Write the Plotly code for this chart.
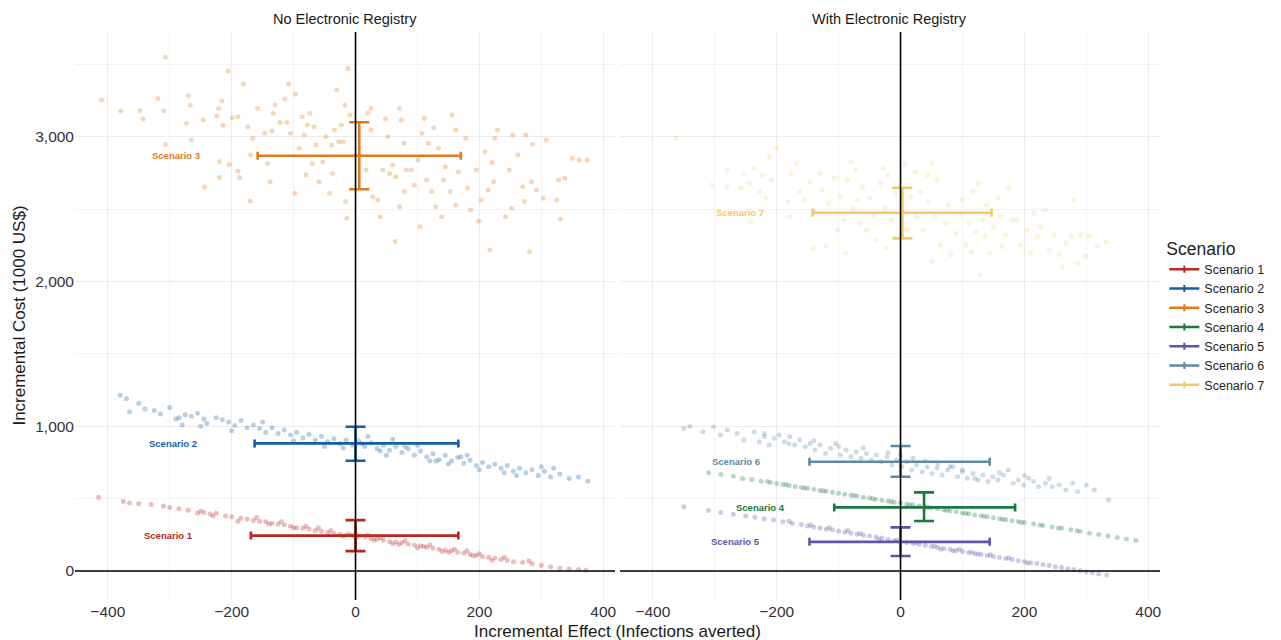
import plotly.graph_objects as go

# ---------------- data ----------------
scenarios = ["Scenario 1", "Scenario 2", "Scenario 3", "Scenario 4",
             "Scenario 5", "Scenario 6", "Scenario 7"]
panels = ["No Electronic Registry", "With Electronic Registry"]
scenario_panel = [0, 0, 0, 1, 1, 1, 1]
colors = ["#B8281F", "#145FA8", "#E07A1C", "#187A3C", "#5F54A8", "#5E8AA8", "#F6C965"]

# summary (mean and 95% intervals) read from the crosshairs
mean_x = [0, 0, 6, 38, 0, 0, 3]
mean_y = [245, 882, 2870, 440, 202, 755, 2476]
x_lo = [-169, -163, -158, -107, -147, -147, -142]
x_hi = [166, 166, 170, 185, 144, 144, 147]
y_lo = [138, 762, 2638, 346, 104, 652, 2299]
y_hi = [352, 997, 3101, 544, 302, 864, 2649]

# simulated incremental effects / costs (read from the scatter clouds)
s1_x = [-415, -375, -365, -350, -330, -310, -300, -285, -270, -255, -245, -235, -225, -210, -200,
        -185, -175, -165, -155, -145, -135, -125, -115, -105, -95, -85, -75, -65, -55, -45, -35,
        -25, -15, -5, 5, 15, 25, 35, 45, 55, 65, 75, 85, 95, 105, 115, 125, 135, 145, 155, 165,
        175, 185, 195, 205, 215, 225, 235, 245, 255, 270, 285, 300, 315, 330, 345, 360, 372,
        -250, -230, -190, -160, -120, -80, -40, 0, 0, 40, 80, 120, 160, 200, 240, 280, -60, -20,
        20, 60, 100, 140, 180, 220, -140, -100, -10, 30, 70, 110, 150, 190]
s1_y = [510, 480, 470, 465, 460, 450, 440, 430, 420, 400, 405, 395, 400, 380, 375,
        365, 360, 350, 345, 340, 330, 325, 320, 310, 300, 295, 290, 280, 275, 265, 260,
        255, 250, 245, 240, 235, 225, 220, 215, 205, 200, 195, 185, 180, 175, 165, 160, 150, 145, 140, 130,
        125, 115, 110, 100, 95, 90, 80, 75, 65, 60, 50, 40, 30, 20, 15, 10, 5,
        415, 380, 345, 370, 340, 310, 280, 260, 230, 230, 210, 180, 150, 120, 95, 70, 300, 240,
        250, 190, 160, 135, 140, 75, 325, 300, 255, 215, 185, 170, 130, 105]

s2_x = [-380, -370, -365, -350, -340, -325, -315, -300, -290, -285, -275, -265, -255, -245, -240,
        -225, -215, -205, -195, -185, -175, -165, -155, -145, -135, -125, -115, -105, -95, -85,
        -75, -65, -55, -45, -35, -25, -15, -5, 5, 15, 25, 35, 45, 55, 65, 75, 85, 95, 105, 115,
        125, 135, 145, 155, 165, 175, 185, 195, 205, 215, 225, 235, 245, 255, 265, 275, 285, 295,
        305, 315, 330, 345, 360, 375, 260, 300, 320, 200, 150, 100, 50, -50, -100, -150, -200,
        -250, -280, 20, 60, 120, 180, 240, -20, 10, 40, 80, 130, 170]
s2_y = [1215, 1190, 1100, 1160, 1120, 1110, 1085, 1130, 1050, 1060, 1080, 1070, 1090, 1050, 1020,
        1060, 1045, 1030, 1005, 1040, 990, 1010, 985, 960, 990, 950, 975, 940, 960, 920,
        945, 905, 930, 895, 915, 880, 905, 870, 900, 860, 885, 845, 870, 835, 860, 820, 845, 800, 830, 790,
        810, 770, 800, 760, 785, 745, 765, 730, 750, 720, 740, 710, 730, 690, 710, 680, 700, 660,
        690, 650, 670, 640, 650, 620, 660, 720, 710, 700, 740, 870, 800, 860, 900, 1030, 970,
        1000, 1010, 930, 910, 760, 800, 680, 850, 880, 830, 860, 760, 790]

s3_x = [-410, -307, -379, -348, -343, -319, -310, -307, -270, -267, -273, -265, -246, -244, -224,
        -221, -216, -220, -220, -214, -206, -204, -199, -190, -190, -187, -181, -174, -170, -169,
        -166, -158, -147, -142, -138, -135, -133, -130, -122, -114, -111, -108, -105, -98, -97,
        -91, -86, -83, -80, -78, -74, -70, -67, -64, -59, -53, -48, -42, -39, -37, -34, -30,
        -27, -23, -20, -17, -16, -14, -12, -9, 17, 20, 25, 25, 28, 36, 40, 44, 48, 52, 55, 60,
        64, 65, 71, 71, 74, 78, 79, 82, 90, 95, 101, 104, 107, 111, 115, 118, 123, 126, 129,
        134, 139, 142, 145, 153, 156, 162, 162, 166, 178, 181, 186, 195, 199, 203, 209, 214,
        217, 220, 223, 225, 229, 242, 248, 252, 254, 262, 270, 273, 275, 281, 284, 286, 292,
        303, 308, 325, 328, 331, 338, 350, 361, 374]
s3_y = [3255, 3550, 3179, 3181, 3123, 3266, 3181, 2948, 3285, 3220, 3094, 2979, 3117, 2654, 3145,
        3197, 3248, 2829, 2719, 3080, 3456, 2810, 3133, 3140, 2764, 2719, 3366, 3070, 2557, 2875,
        2990, 3197, 3025, 2817, 2691, 3041, 3163, 3220, 3100, 3262, 3100, 3366, 3025, 2610, 3294,
        2922, 3140, 3013, 2737, 3083, 3163, 2817, 3071, 2944, 2691, 2829, 3002, 2610, 2944, 2748, 3048, 3325,
        2967, 3083, 2967, 3220, 2553, 2438, 3473, 3151, 2771, 3163, 3197, 3048, 2587, 2564, 2449, 2771, 3123, 3002, 2748, 2806,
        2277, 2725, 3197, 2518, 3117, 2956, 2622, 2771, 2771, 2668, 2841, 2380, 3025, 3128, 2702, 2956, 2622, 3064, 2518,
        2921, 2449, 2702, 2794, 2622, 3151, 3048, 2530, 2760, 2990, 2645, 2495, 2771, 2418, 2564, 2898, 2633,
        2219, 2823, 2691, 2990, 3048, 2449, 2771, 2507, 3013, 2875, 2656, 2553, 3013, 2207, 2691, 2950, 2633,
        2576, 2979, 2564, 2702, 2432, 2714, 2852, 2840, 2840]

s4_x = [-310, -290, -270, -255, -240, -225, -210, -200, -190, -180, -170, -160, -150, -140, -130,
        -120, -110, -100, -90, -80, -70, -60, -50, -40, -30, -20, -10, 0, 10, 20, 30, 40, 50, 60,
        70, 80, 90, 100, 110, 120, 130, 140, 150, 160, 170, 180, 190, 200, 215, 230, 245, 260,
        275, 290, 305, 320, 335, 350, 365, 380, -75, -45, -15, 15, 45, 75, 105, 135, 165, 195,
        -125, -155, -185, -215, 225, 255, 285]
s4_y = [680, 668, 655, 640, 632, 620, 612, 605, 598, 592, 585, 578, 572, 565, 556,
        552, 544, 538, 530, 524, 518, 510, 504, 497, 490, 484, 476, 470, 462, 456, 450, 443, 436, 430,
        422, 416, 410, 402, 396, 388, 382, 376, 368, 362, 355, 348, 342, 335, 325, 315, 305, 295,
        285, 275, 262, 252, 242, 232, 222, 212, 522, 500, 480, 458, 440, 420, 399, 378, 358, 338,
        555, 574, 598, 618, 318, 298, 278]

s5_x = [-350, -310, -290, -270, -250, -235, -220, -205, -190, -175, -160, -150, -140, -130, -120,
        -110, -100, -90, -80, -70, -60, -50, -40, -30, -20, -10, 0, 10, 20, 30, 40, 50, 60, 70,
        80, 90, 100, 110, 120, 130, 140, 150, 160, 170, 180, 190, 200, 210, 220, 230, 240, 250,
        260, 270, 280, 290, 300, 310, 320, 333, -65, -35, -5, 25, 55, 85, 115, 145, 175, 205,
        -115, -145, -180, -85, 65, 95, 125]
s5_y = [444, 418, 405, 392, 380, 372, 360, 352, 340, 330, 322, 312, 305, 298, 290,
        285, 276, 270, 262, 255, 248, 242, 235, 228, 218, 212, 205, 198, 190, 185, 178, 170, 163, 156,
        150, 142, 136, 128, 122, 115, 108, 100, 94, 86, 80, 72, 66, 58, 52, 45, 38, 30,
        24, 16, 10, 2, -5, -12, -20, -28, 260, 222, 215, 195, 172, 140, 130, 112, 90, 55,
        300, 318, 345, 280, 150, 150, 118]

s6_x = [-350, -340, -319, -302, -291, -280, -264, -253, -236, -228, -220, -212, -204, -196, -187,
        -179, -171, -163, -154, -146, -138, -130, -121, -113, -105, -97, -88, -80, -72, -64, -55,
        -47, -39, -31, -22, -14, -6, 2, 10, 18, 26, 35, 43, 51, 59, 67, 76, 84, 92, 100, 108, 117,
        125, 133, 141, 149, 157, 166, 174, 182, 190, 199, 207, 215, 223, 234, 245, 256, 267, 278,
        286, 300, 313, 336, -20, 0, 20, 40, 60, 80, 100, -60, -100, -140, 120, 160, 200, 240,
        -180, -220]
s6_y = [985, 1000, 963, 997, 940, 974, 951, 905, 963, 894, 928, 871, 917, 940, 894,
        928, 871, 905, 859, 882, 836, 871, 813, 848, 882, 802, 836, 790, 825, 779, 813,
        767, 802, 756, 790, 733, 767, 721, 756, 698, 733, 687, 721, 675, 710, 664, 698, 721, 652, 687, 641, 675,
        629, 664, 618, 652, 629, 664, 698, 606, 629, 595, 641, 618, 583, 606, 583, 595, 560, 606,
        549, 595, 560, 491, 820, 800, 780, 760, 740, 720, 700, 850, 860, 900, 640, 680, 660, 640,
        880, 950]

s7_x = [-362, -305, -280, -280, -258, -253, -244, -236, -228, -223, -217, -212, -209, -200, -242,
        -182, -177, -168, -163, -179, -155, -146, -138, -130, -127, -141, -121, -116, -108, -102,
        -97, -91, -89, -86, -80, -77, -72, -69, -66, -61, -55, -50, -44, -39, -33, -28, -25, -23,
        -20, -15, -9, 7, 10, 15, 24, 26, 32, 37, 43, 45, 51, 51, 56, 59, 65, 73, 78, 81, 89, 97,
        100, 106, 111, 114, 117, 122, 125, 128, 133, 136, 139, 144, 150, 158, 161, 164, 169, 175,
        180, 188, 194, 204, 210, 215, 221, 226, 234, 240, 248, 256, 261, 267, 275, 280, 286, 291,
        299, 305, 318, 332]
s7_y = [2990, 2668, 2771, 2656, 2645, 2748, 2679, 2783, 2622, 2737, 2576, 2863, 2702, 2921, 2414,
        2553, 2748, 2817, 2622, 2449, 2564, 2691, 2484, 2748, 2633, 2230, 2242, 2541, 2714, 2357,
        2587, 2426, 2196, 2702, 2829, 2507, 2771, 2564, 2403, 2656, 2357, 2576, 2461, 2288, 2679, 2783, 2507, 2230,
        2737, 2426, 2610, 2817, 2357, 2587, 2760, 2449, 2622, 2357, 2737, 2553, 2817, 2139, 2449, 2702, 2253, 2403, 2530, 2185, 2334, 2472,
        2564, 2253, 2403, 2207, 2622, 2345, 2679, 2046, 2426, 2311, 2530, 2196, 2380, 2576, 2449, 2242, 2322, 2645,
        2426, 2426, 2253, 2357, 2196, 2472, 2311, 2380, 2495, 2219, 2322, 2185, 2104, 2265, 2311, 2564, 2127, 2322,
        2173, 2311, 2242, 2276]

points_x = [s1_x, s2_x, s3_x, s4_x, s5_x, s6_x, s7_x]
points_y = [s1_y, s2_y, s3_y, s4_y, s5_y, s6_y, s7_y]

x_ticks = [-400, -200, 0, 200, 400]
y_ticks = [0, 1000, 2000, 3000]
y_tick_labels = ["0", "1,000", "2,000", "3,000"]

# ---------------- figure ----------------
FONT = "Liberation Sans, Arial, sans-serif"
fig = go.Figure()

def hex_rgba(h, a):
    h = h.lstrip("#")
    return "rgba(%d,%d,%d,%.2f)" % (int(h[0:2], 16), int(h[2:4], 16), int(h[4:6], 16), a)

point_alpha = [0.3, 0.3, 0.3, 0.3, 0.3, 0.3, 0.25]
label_gap = [90, 76]   # distance (x units) between a label's right edge and its bar

for i, name in enumerate(scenarios):
    xa = "x" if scenario_panel[i] == 0 else "x2"
    fig.add_trace(go.Scatter(
        x=points_x[i], y=points_y[i], mode="markers", xaxis=xa, yaxis="y",
        marker=dict(size=5, color=hex_rgba(colors[i], point_alpha[i]), line=dict(width=0)),
        showlegend=False, hoverinfo="skip"))

for i, name in enumerate(scenarios):
    xa = "x" if scenario_panel[i] == 0 else "x2"
    fig.add_trace(go.Scatter(
        x=[mean_x[i]], y=[mean_y[i]], mode="markers", xaxis=xa, yaxis="y",
        marker=dict(size=1, color="rgba(0,0,0,0)"),
        error_x=dict(type="data", symmetric=False, array=[x_hi[i] - mean_x[i]],
                     arrayminus=[mean_x[i] - x_lo[i]], color=colors[i], thickness=2.6, width=4),
        error_y=dict(type="data", symmetric=False, array=[y_hi[i] - mean_y[i]],
                     arrayminus=[mean_y[i] - y_lo[i]], color=colors[i], thickness=2.6, width=10),
        showlegend=False, hoverinfo="skip"))
    # legend entry
    fig.add_trace(go.Scatter(
        x=[None], y=[None], mode="lines+markers", xaxis=xa, yaxis="y", name=name,
        line=dict(color=colors[i], width=2.5),
        marker=dict(color=colors[i], size=5, symbol="line-ns-open", line=dict(width=2, color=colors[i])),
        showlegend=True))
    # text label
    fig.add_annotation(x=x_lo[i] - label_gap[scenario_panel[i]], y=mean_y[i], xref=xa, yref="y",
                       text="<b>%s</b>" % name,
                       showarrow=False, xanchor="right", yanchor="middle",
                       font=dict(family=FONT, size=9.5, color=colors[i]))

# zero reference lines
for xa, xr in (("x", "x domain"), ("x2", "x2 domain")):
    fig.add_shape(type="line", xref=xa, yref="y domain", x0=0, x1=0, y0=0, y1=1,
                  line=dict(color="black", width=1.6), layer="above")
    fig.add_shape(type="line", xref=xr, yref="y", x0=0, x1=1, y0=0, y1=0,
                  line=dict(color="black", width=1.6), layer="above")

axis_common = dict(range=[-453, 419], tickvals=x_ticks, showgrid=True, gridcolor="#EBEBEB",
                   gridwidth=1, zeroline=False, showline=False, ticks="",
                   minor=dict(dtick=100, tick0=-500, showgrid=True, gridcolor="#F3F3F3", gridwidth=1),
                   tickfont=dict(family=FONT, size=15.5, color="#333333"))
fig.update_layout(
    width=1281, height=640,
    margin=dict(l=75, r=111, t=32, b=40),
    paper_bgcolor="white", plot_bgcolor="white",
    font=dict(family=FONT, color="#222222"),
    xaxis=dict(domain=[0, 0.4977], anchor="y", **axis_common),
    xaxis2=dict(domain=[0.5023, 1], anchor="y", **axis_common),
    yaxis=dict(range=[-200, 3725], tickvals=y_ticks, ticktext=y_tick_labels, showgrid=True,
               gridcolor="#EBEBEB", zeroline=False, showline=False, ticks="",
               minor=dict(dtick=500, tick0=500, showgrid=True, gridcolor="#F3F3F3", gridwidth=1),
               tickfont=dict(family=FONT, size=15.5, color="#333333")),
    legend=dict(x=1.004, y=0.648, xanchor="left", yanchor="top",
                title=dict(text="Scenario", font=dict(family=FONT, size=17.5, color="#222222")),
                font=dict(family=FONT, size=12.5, color="#222222"),
                itemwidth=30, tracegroupgap=0, bgcolor="rgba(0,0,0,0)"),
)

# facet titles and axis titles
fig.add_annotation(x=0.5, y=1.005, xref="x domain", yref="paper", text=panels[0], showarrow=False,
                   xanchor="center", yanchor="bottom", font=dict(family=FONT, size=14.5, color="#1A1A1A"))
fig.add_annotation(x=0.5, y=1.005, xref="x2 domain", yref="paper", text=panels[1], showarrow=False,
                   xanchor="center", yanchor="bottom", font=dict(family=FONT, size=14.5, color="#1A1A1A"))
fig.add_annotation(x=0.5, y=-0.0546, xref="paper", yref="paper",
                   text="Incremental Effect (Infections averted)", showarrow=False,
                   xanchor="center", yanchor="middle", font=dict(family=FONT, size=17, color="#1A1A1A"))
fig.add_annotation(x=-0.052, y=0.5, xref="paper", yref="paper", text="Incremental Cost (1000 US$)",
                   showarrow=False, textangle=-90, xanchor="center", yanchor="middle",
                   font=dict(family=FONT, size=17, color="#1A1A1A"))

# the page body keeps no default margin so the figure sits at the window's top-left corner
fig.write_html("out.html", config={"displayModeBar": False},
               post_script="document.body.style.margin='0';")
